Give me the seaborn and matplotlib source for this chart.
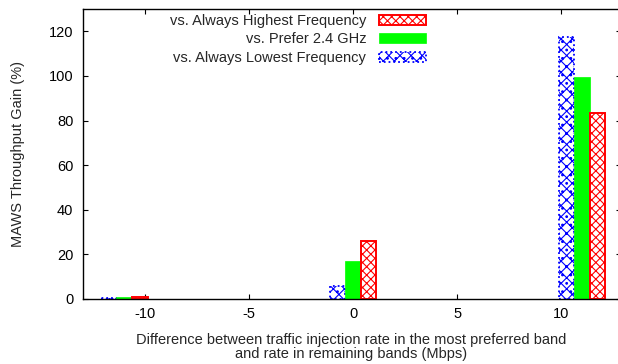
import numpy as np
import matplotlib
matplotlib.use("Agg")
import matplotlib.pyplot as plt
import matplotlib.patches as mpatches
import seaborn as sns
import pandas as pd

# data
rate_diff = [-11, 0, 11]
series = ["vs. Always Lowest Frequency", "vs. Prefer 2.4 GHz", "vs. Always Highest Frequency"]
gain_lowest = [0.5, 5.7, 117.5]
gain_prefer24 = [0.8, 17.2, 99.5]
gain_highest = [1.0, 26.0, 83.5]

colors = {"vs. Always Lowest Frequency": "#0000ff",
          "vs. Prefer 2.4 GHz": "#00ff00",
          "vs. Always Highest Frequency": "#ff0000"}

df = pd.DataFrame({
    "x": rate_diff * 3,
    "gain": gain_lowest + gain_prefer24 + gain_highest,
    "series": [s for s in series for _ in rate_diff],
})

sns.set_style("ticks")
plt.rcParams["font.family"] = ["Liberation Sans", "DejaVu Sans"]
plt.rcParams["axes.unicode_minus"] = False
plt.rcParams["hatch.linewidth"] = 0.8

fig = plt.figure(figsize=(6.18, 3.64), dpi=100)
# the right frame of the original sits just past the image edge
ax = fig.add_axes([82.5 / 618, 65 / 364, 538 / 618, 290 / 364])

sns.barplot(data=df, x="x", y="gain", hue="series", hue_order=series,
            native_scale=True, dodge=True, width=2.25 / 11, gap=0,
            palette=colors, errorbar=None, legend=False, ax=ax)

styles = {
    "vs. Always Lowest Frequency": dict(fc="white", ec="#0000ff", hatch="xxx..", ls=":", lw=1.3),
    "vs. Prefer 2.4 GHz": dict(fc="#00ff00", ec="#00ff00", hatch=None, ls="-", lw=0.5),
    "vs. Always Highest Frequency": dict(fc="white", ec="#ff0000", hatch="xxxx", ls="-", lw=1.4),
}
for cont, s in zip(ax.containers, series):
    st = styles[s]
    for p in cont:
        p.set_facecolor(st["fc"])
        p.set_edgecolor(st["ec"])
        p.set_hatch(st["hatch"])
        p.set_linestyle(st["ls"])
        p.set_linewidth(st["lw"])

ax.set_xlim(-13, 12.85)
ax.set_ylim(0, 130)
ax.set_xticks([-10, -5, 0, 5, 10])
ax.set_yticks([0, 20, 40, 60, 80, 100, 120])
ax.tick_params(direction="in", top=True, right=True, length=3.5, width=0.8,
               labelsize=10.5, colors="black")
ax.tick_params(axis="y", pad=6.5)
ax.tick_params(axis="x", pad=6)
for sp in ax.spines.values():
    sp.set_visible(True)
    sp.set_linewidth(1.0)
    sp.set_color("black")
ax.spines["right"].set_visible(False)

ax.set_xlabel("Difference between traffic injection rate in the most preferred band\n"
              "and rate in remaining bands (Mbps)", fontsize=10.5, labelpad=8.5,
              linespacing=1.0)
ax.set_ylabel("MAWS Throughput Gain (%)", fontsize=10.5, labelpad=17)

handles = []
labels = []
for s in series[::-1]:
    st = styles[s]
    handles.append(mpatches.Patch(facecolor=st["fc"], edgecolor=st["ec"],
                                  hatch=st["hatch"], linestyle=st["ls"], linewidth=st["lw"]))
    labels.append(s)
ax.legend(handles, labels, loc="upper right", frameon=False, markerfirst=False,
          bbox_to_anchor=(426 / 618, 1 - 14 / 364), bbox_transform=fig.transFigure,
          borderpad=0, borderaxespad=0, handlelength=3.2, handleheight=0.7,
          handletextpad=0.9, labelspacing=0.3, fontsize=10.5)

fig.savefig("out.png", dpi=100)
